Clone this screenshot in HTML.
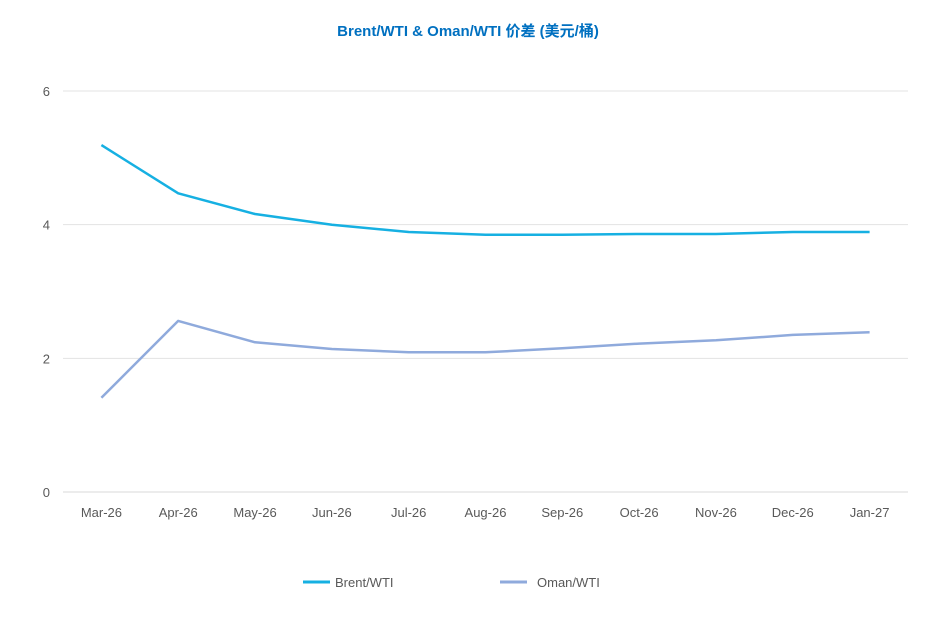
<!DOCTYPE html>
<html><head><meta charset="utf-8">
<style>
html,body{margin:0;padding:0;background:#fff;}
svg{display:block;font-family:"Liberation Sans","Noto Sans CJK SC",sans-serif;}
</style></head>
<body>
<svg id="chart" width="937" height="634" viewBox="0 0 937 634">
<text x="468" y="36" text-anchor="middle" font-size="15" font-weight="bold" fill="#0070c0">Brent/WTI &amp; Oman/WTI 价差 (美元/桶)</text>
<g id="grid"></g><g id="axes"></g><g id="series"></g>
<g>
<line x1="303" y1="582" x2="330" y2="582" stroke="#16b0e2" stroke-width="3"/>
<text x="335" y="587" font-size="13" fill="#595959">Brent/WTI</text>
<line x1="500" y1="582" x2="527" y2="582" stroke="#8faadc" stroke-width="3"/>
<text x="537" y="587" font-size="13" fill="#595959">Oman/WTI</text>
</g>
</svg>
<script>
const categories=["Mar-26","Apr-26","May-26","Jun-26","Jul-26","Aug-26","Sep-26","Oct-26","Nov-26","Dec-26","Jan-27"];
const brentValues=[5.19,4.47,4.16,4.0,3.89,3.85,3.85,3.86,3.86,3.89,3.89];
const omanValues=[1.41,2.56,2.24,2.14,2.09,2.09,2.15,2.22,2.27,2.35,2.39];
const yTicks=[0,2,4,6];
const NS="http://www.w3.org/2000/svg";
const plotLeft=63,plotRight=908,plotTop=91,plotBottom=492,yMax=6;
const step=(plotRight-plotLeft)/categories.length;
function xs(i){return plotLeft+(i+0.5)*step;}
function ys(v){return plotBottom-(v/yMax)*(plotBottom-plotTop);}
function mk(tag,attrs,parent){const e=document.createElementNS(NS,tag);for(const k in attrs)e.setAttribute(k,attrs[k]);parent.appendChild(e);return e;}
const gridG=document.getElementById('grid'),axesG=document.getElementById('axes'),seriesG=document.getElementById('series');
yTicks.forEach(t=>{
  const l=mk('line',{x1:plotLeft,x2:plotRight,y1:ys(t),y2:ys(t),stroke:t===0?'#d9d9d9':'#e3e3e3','stroke-width':1},gridG);
  
  
  const tx=mk('text',{x:50,y:ys(t)+5,'text-anchor':'end','font-size':13,fill:'#595959'},axesG);
  tx.textContent=t;
  
  
});
categories.forEach((c,i)=>{
  const tx=mk('text',{x:xs(i),y:517,'text-anchor':'middle','font-size':13,fill:'#595959'},axesG);
  tx.textContent=c;
  
  
});
function drawLine(vals,color,name){
  const d=vals.map((v,i)=>(i?'L':'M')+xs(i).toFixed(1)+' '+ys(v).toFixed(1)).join(' ');
  const p=mk('path',{d:d,fill:'none',stroke:color,'stroke-width':2.5,'stroke-linejoin':'round'},seriesG);
  
  
}
drawLine(brentValues,'#16b0e2','brent-wti-line');
drawLine(omanValues,'#8faadc','oman-wti-line');
</script>
</body></html>
